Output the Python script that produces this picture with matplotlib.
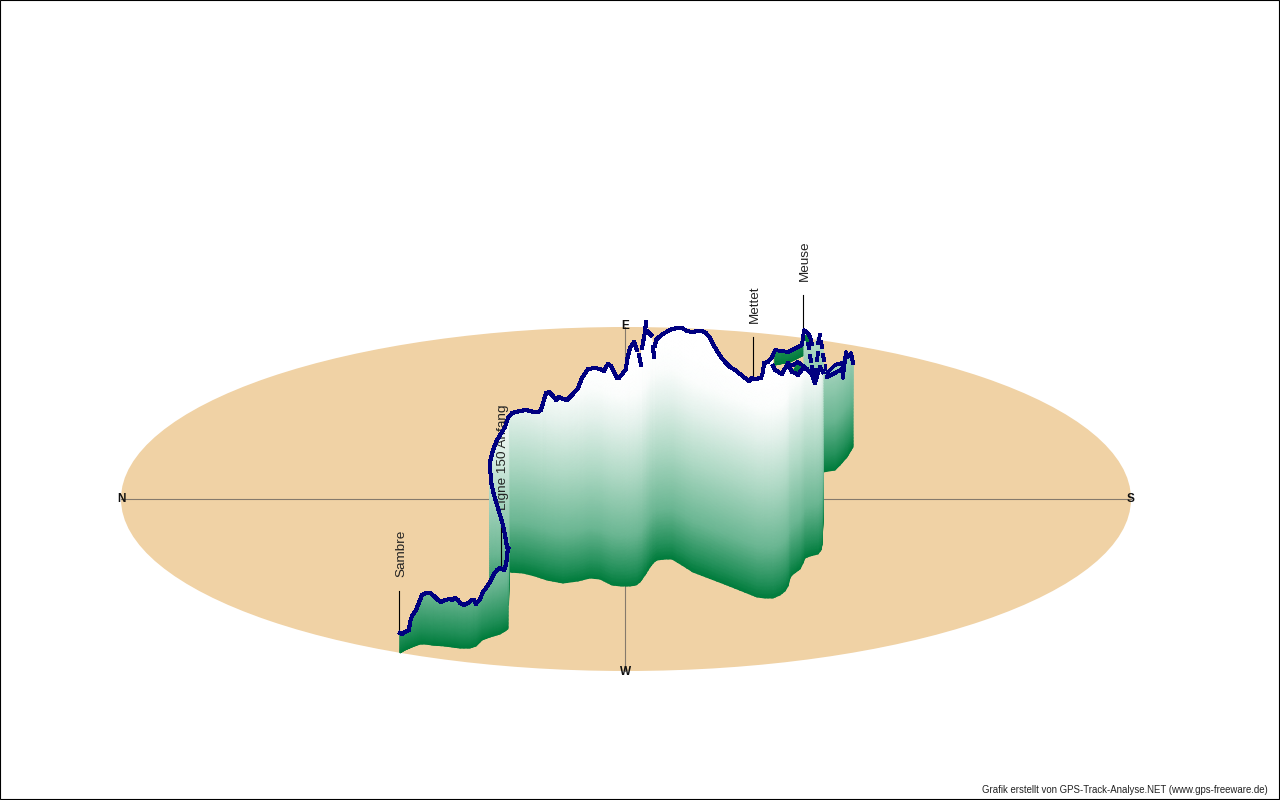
import numpy as np
import matplotlib
matplotlib.use('Agg')
import matplotlib.pyplot as plt
from matplotlib.colors import LinearSegmentedColormap
from matplotlib.patches import Ellipse, Rectangle

plt.rcParams['font.family'] = ['Liberation Sans', 'DejaVu Sans']

# first climb, up to the turn at the railway line
left_x = [400, 402, 405, 409, 410, 412, 416, 418, 422, 426, 430, 434, 438, 441, 445, 450, 452, 455, 458, 460,
          464, 468, 472, 474, 476, 480, 483, 486, 490, 494, 497, 500, 504, 506, 508]
left_y = [633, 634, 632, 630, 622, 616, 610, 605, 595, 593, 593, 596, 600, 602, 600, 599, 600, 598, 600, 603,
          605, 603, 600, 600, 604, 599, 592, 588, 582, 574, 570, 568, 570, 565, 548]
left_base_x = [400, 405, 412, 420, 426, 432, 445, 460, 470, 476, 482, 490, 500, 505, 509]
left_base_y = [653, 650, 647, 644, 644, 645, 646, 648, 648, 646, 640, 637, 634, 631, 628]

# section running back behind the first climb
turn_x = [490, 491, 494, 497, 500, 503, 505, 507, 508]
turn_y = [465, 482, 495, 505, 515, 525, 535, 547, 548]
turn_base_x = [490, 509]
turn_base_y = [605, 605]

# long main wall
main_x = [490, 493, 497, 502, 505, 508, 512, 520, 526, 534, 538, 541, 546, 549, 553, 556, 559, 563, 567, 573,
          578, 582, 588, 595, 600, 604, 606, 608, 611, 614, 617, 619, 623, 626, 627, 630, 634, 637, 639, 641,
          642, 645, 646, 648, 651, 653, 654, 655, 656, 659, 663, 668, 672, 678, 682, 687, 692, 698, 702, 706,
          710, 713, 717, 721, 725, 730, 735, 740, 745, 749, 752, 755, 761, 763, 764, 768, 772, 773, 775, 782,
          788, 792, 795, 798, 803, 807, 812, 815, 818, 820, 823]
main_y = [462, 450, 440, 432, 427, 418, 413, 411, 410, 412, 412, 410, 393, 392, 396, 400, 397, 399, 400, 394,
          388, 378, 369, 368, 369, 371, 367, 364, 366, 372, 378, 378, 373, 369, 360, 348, 342, 350, 355, 365,
          348, 332, 322, 332, 335, 347, 357, 346, 340, 337, 334, 331, 329, 328, 328, 331, 332, 331, 331, 333,
          338, 344, 351, 357, 362, 367, 370, 374, 378, 381, 378, 379, 378, 372, 363, 362, 357, 366, 370, 374,
          363, 372, 373, 375, 368, 369, 375, 383, 373, 367, 372]
main_base_x = [490, 508.5, 509, 523, 535, 547, 563, 578, 590, 600, 612, 621, 630, 636, 640, 645, 650, 654, 657, 665,
               672, 682, 693, 727, 757, 765, 773, 780, 785, 788, 790, 792, 800, 803, 805, 810, 818, 821, 822, 823]
main_base_y = [605, 605, 572, 573, 576, 580, 583, 581, 578, 579, 585, 586, 586, 585, 582, 575, 567, 562, 560, 559,
               559, 565, 572, 585, 597, 598, 598, 595, 591, 586, 578, 575, 569, 563, 558, 556, 554, 550, 545, 520]

# runs of the main line that are unbroken, gaps are on the steep bits
main_runs = [(490, 637), (639, 641), (642, 646), (648, 651), (653, 654), (655, 772), (773, 823)]

# short walls at the far end
back_x = [775, 788, 802, 804]
back_y = [350, 352, 345, 340]
back_base_x = [775, 790, 804]
back_base_y = [365, 362, 355]

pale_x = [804, 811, 814, 819, 823]
pale_y = [338, 342, 345, 335, 350]
pale_base_x = [804, 823]
pale_base_y = [455, 455]

patch_x = [806, 809, 811]
patch_y = [335, 336, 342]
patch_base_x = [806, 809, 811]
patch_base_y = [340, 344, 345]

inner_x = [793, 798, 804]
inner_y = [372, 363, 366]
inner_base_x = [793, 798, 804]
inner_base_y = [373, 375, 369]

end_x = [823, 835, 842, 846, 848, 851, 853]
end_y = [373, 365, 363, 352, 357, 353, 363]
end_base_x = [823, 835, 840, 847, 853]
end_base_y = [472, 470, 465, 457, 447]

# track pieces that are only the line
track_pieces = [
    ([772, 775, 788, 802, 804, 808, 810], [357, 350, 352, 345, 330, 333, 337]),
    ([811, 812], [340, 344]),
    ([808, 809], [344, 348]),
    ([810, 811], [356, 361]),
    ([812, 813], [367, 372]),
    ([793, 798, 802, 806], [365, 362, 365, 368]),
    ([815, 816], [378, 370]),
    ([817, 818], [360, 353]),
    ([818, 820], [343, 335]),
    ([821, 822], [342, 347]),
    ([823, 824], [355, 360]),
    ([825, 825], [365, 369]),
    ([827, 835, 842, 843], [373, 365, 363, 367]),
    ([827, 835, 842, 843, 844, 846, 848, 851, 853], [377, 373, 369, 378, 368, 352, 357, 353, 363]),
]

names = ['Sambre', 'Ligne 150 Anfang', 'Mettet', 'Meuse']
name_x = [399, 501, 753, 803]
name_top = [591, 525, 337, 295]
name_end = [633, 566, 380, 340]
name_text = [577, 510, 323, 281]

elev_stops = [0, 15, 50, 110, 160, 190, 215]
elev_cols = ['#007c3c', '#23905a', '#6ab692', '#afd9c5', '#e3f1eb', '#fbfdfc', '#ffffff']
green = LinearSegmentedColormap.from_list('wall', [(e / 215, c) for e, c in zip(elev_stops, elev_cols)])


def wall(top_x, top_y, base_x, base_y, z):
    xs = np.unique(np.concatenate([top_x, base_x]))
    xs = xs[(xs >= min(top_x)) & (xs <= max(top_x))]
    top = np.interp(xs, top_x, top_y)
    base = np.interp(xs, base_x, base_y)
    f = np.linspace(0, 1, 60)[:, None]
    X = np.tile(xs, (60, 1))
    Y = base + (top - base) * f
    ax.pcolormesh(X, Y, base - Y, cmap=green, vmin=0, vmax=215, shading='gouraud', zorder=z)


def track(xs, ys, lw=2.2):
    ax.plot(xs, ys, color='#000080', lw=lw, antialiased=False, zorder=13)


fig = plt.figure(figsize=(12.8, 8), dpi=100, facecolor='white')
ax = fig.add_axes([0, 0, 1, 1])
ax.set_xlim(0, 1280)
ax.set_ylim(800, 0)
ax.axis('off')

# ground
ax.add_patch(Ellipse((626, 499), 1010, 344, facecolor='#f0d2a5', edgecolor='none', zorder=1))
ax.plot([121, 1131], [499, 499], color='#857a6c', lw=0.8, zorder=2)
ax.plot([625, 625], [327, 671], color='#857a6c', lw=0.8, zorder=2)
for s, x, y in [('N', 121, 499), ('S', 1131, 499), ('E', 625.5, 326), ('W', 625.5, 672)]:
    ax.text(x, y, s, fontsize=8.5, fontweight='bold', ha='center', va='center', color='#111111', zorder=3)

# walls, far ones first
wall(end_x, end_y, end_base_x, end_base_y, 4)
wall(back_x, back_y, back_base_x, back_base_y, 5)
wall(pale_x, pale_y, pale_base_x, pale_base_y, 6)
wall(patch_x, patch_y, patch_base_x, patch_base_y, 7)
wall(inner_x, inner_y, inner_base_x, inner_base_y, 7)
wall(turn_x, turn_y, turn_base_x, turn_base_y, 8)
wall(main_x, main_y, main_base_x, main_base_y, 9)
wall(left_x, left_y, left_base_x, left_base_y, 10)

# leaders and names
for n, x, t0, t1, ty in zip(names, name_x, name_top, name_end, name_text):
    ax.plot([x, x], [t0, t1], color='black', lw=0.8, zorder=11)
    ax.text(x + 2, ty, n, rotation=90, fontsize=9.7, ha='center', va='bottom', color='#222222', zorder=12)

# track line
track(left_x, left_y)
track(turn_x, turn_y)
mx = np.array(main_x)
my = np.array(main_y)
for a, b in main_runs:
    keep = (mx >= a) & (mx <= b)
    track(mx[keep], my[keep])
for px, py in track_pieces:
    track(px, py, lw=2.0)

ax.text(1268, 790, 'Grafik erstellt von GPS-Track-Analyse.NET (www.gps-freeware.de)', fontsize=6.95,
        ha='right', va='center', color='#222222', zorder=14)

ax.add_patch(Rectangle((0, 0), 1279, 799, facecolor='none', edgecolor='black', lw=0.8, zorder=15, clip_on=False))

fig.savefig('out.png', dpi=100, facecolor='white')
